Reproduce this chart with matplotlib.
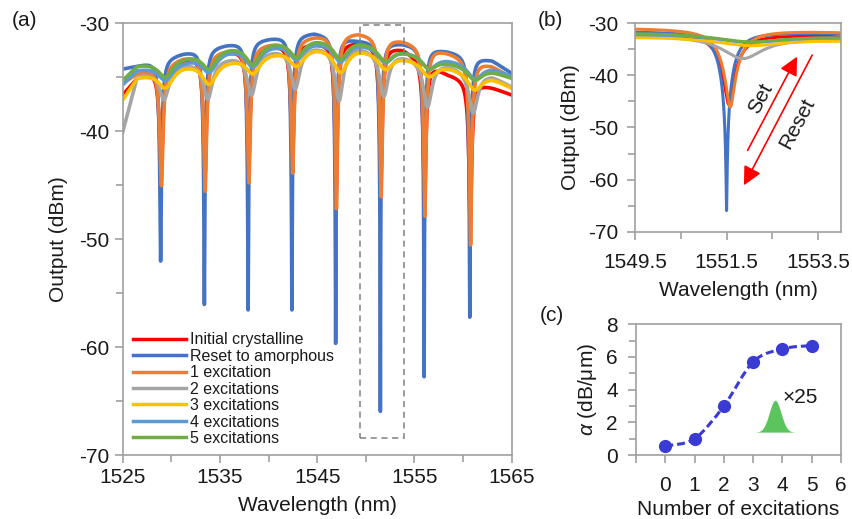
import numpy as np
import matplotlib.pyplot as plt
from matplotlib.patches import Rectangle, PathPatch
from matplotlib.path import Path
from matplotlib.ticker import MultipleLocator

plt.rcParams['font.family'] = ['Liberation Sans', 'DejaVu Sans']
plt.rcParams['mathtext.fontset'] = 'custom'
plt.rcParams['mathtext.it'] = 'Liberation Sans:italic'
plt.rcParams['mathtext.rm'] = 'Liberation Sans'
plt.rcParams['axes.unicode_minus'] = False

# ---- data ----
series_names = ['Initial crystalline', 'Reset to amorphous', '1 excitation',
                '2 excitations', '3 excitations', '4 excitations', '5 excitations']
series_colors = ['#FF0000', '#4472C4', '#ED7D31', '#A5A5A5', '#FFC000', '#5B9BD5', '#70AD47']

# ring resonances (nm)
dip_wl = [1528.9, 1533.4, 1537.9, 1542.4, 1546.9, 1551.5, 1556.0, 1560.7]

# background level between resonances (dBm), per series
env_wl = [1525, 1526.5, 1531.2, 1535.7, 1540.2, 1544.7, 1549.2, 1553.8, 1558.4, 1563.0, 1565]
env_red = [-36.6, -35.0, -33.3, -32.6, -32.0, -31.8, -31.7, -32.3, -34.6, -35.9, -36.6]
env_blue = [-34.2, -33.9, -32.7, -31.9, -31.3, -30.8, -31.5, -31.8, -32.5, -33.4, -34.6]
env_orange = [-35.5, -34.6, -33.1, -32.4, -31.8, -31.1, -30.8, -31.5, -32.6, -33.9, -35.0]
env_gray = [-40.0, -34.8, -33.6, -33.0, -32.3, -31.9, -31.9, -32.7, -33.6, -34.7, -35.8]
env_yellow = [-37.0, -34.9, -33.7, -33.2, -32.5, -32.0, -32.1, -32.9, -33.8, -34.9, -35.9]
env_lblue = [-35.6, -34.2, -33.3, -32.3, -31.8, -31.5, -31.6, -32.3, -33.1, -34.0, -34.8]
env_green = [-35.2, -33.8, -32.9, -32.0, -31.5, -31.2, -31.4, -32.3, -33.4, -34.3, -35.0]

# resonance minima (dBm), per series
min_red = [-44.5, -45.0, -44.3, -43.5, -46.5, -45.5, -47.0, -49.5]
min_blue = [-52.0, -56.0, -56.5, -56.5, -59.6, -65.9, -62.7, -57.2]
min_orange = [-45.0, -45.5, -44.7, -43.8, -47.1, -46.0, -47.8, -50.5]
min_gray = [-37.0, -36.9, -36.5, -35.9, -37.0, -36.6, -37.6, -38.2]
min_yellow = [-35.9, -35.5, -34.5, -33.8, -34.4, -34.1, -34.8, -36.1]
min_lblue = [-35.2, -34.4, -33.9, -33.2, -33.4, -33.5, -34.1, -35.1]
min_green = [-34.9, -34.1, -33.7, -33.0, -33.2, -33.4, -34.1, -35.2]

# resonance shift (nm) and half width (nm), per series
dip_shift = [0.05, 0.0, 0.08, 0.35, 0.5, 0.5, 0.5]
dip_hw = [0.36, 0.32, 0.38, 0.7, 1.0, 1.0, 1.0]

# panel (c)
n_exc = [0, 1, 2, 3, 4, 5]
alpha_loss = [0.55, 1.0, 3.0, 5.7, 6.5, 6.7]

envs = [env_red, env_blue, env_orange, env_gray, env_yellow, env_lblue, env_green]
mins = [min_red, min_blue, min_orange, min_gray, min_yellow, min_lblue, min_green]

wl = np.arange(1525, 1565.0001, 0.004)
wl = np.union1d(wl, np.array(dip_wl))


def spectrum(env, mn, shift, hw):
    base = np.interp(wl, env_wl, env)
    trans = np.ones_like(wl)
    for c, m in zip(dip_wl, mn):
        c = c + shift
        depth = 1 - 10 ** ((m - np.interp(c, env_wl, env)) / 10)
        trans *= 1 - depth / (1 + ((wl - c) / hw) ** 2)
    return base + 10 * np.log10(trans)


spectra = [spectrum(e, m, s, h) for e, m, s, h in zip(envs, mins, dip_shift, dip_hw)]

fig = plt.figure(figsize=(8.52, 5.19), dpi=100)
ax_a = fig.add_axes([0.144, 0.1233, 0.4565, 0.8318])
ax_b = fig.add_axes([0.7453, 0.5536, 0.2418, 0.4015])
ax_c = fig.add_axes([0.7465, 0.1233, 0.2406, 0.2518])

spine_c = '#A0A0A0'
txt_c = '#1a1a1a'


def style(ax):
    for s in ax.spines.values():
        s.set_color(spine_c)
        s.set_linewidth(1.2)
    ax.tick_params(which='both', direction='out', color=spine_c, labelcolor=txt_c,
                   labelsize=15, width=1.2)
    ax.tick_params(which='major', length=6)
    ax.tick_params(which='minor', length=5)


# ---- (a) ----
for y, c, name in zip(spectra, series_colors, series_names):
    ax_a.plot(wl, y, color=c, lw=2.6, label=name)
ax_a.set_xlim(1525, 1565)
ax_a.set_ylim(-70, -30)
ax_a.set_xticks(np.arange(1525, 1566, 10))
ax_a.set_xticks(np.arange(1530, 1565, 10), minor=True)
ax_a.yaxis.set_major_locator(MultipleLocator(10))
ax_a.yaxis.set_minor_locator(MultipleLocator(5))
style(ax_a)
ax_a.set_xlabel('Wavelength (nm)', fontsize=15, color=txt_c, labelpad=6)
ax_a.set_ylabel('Output (dBm)', fontsize=15, color=txt_c, labelpad=8)
ax_a.add_patch(Rectangle((1549.4, -68.4), 4.5, 38.2, fill=False, ls=(0, (4, 3)),
                         lw=1.1, ec='#808080', zorder=5))
leg = ax_a.legend(loc='lower left', bbox_to_anchor=(-0.015, -0.016), frameon=False,
                  fontsize=11.5, handlelength=3.3, handletextpad=0.3,
                  labelspacing=0.09, borderpad=0.5)
for h in leg.get_lines():
    h.set_linewidth(2.5)
for t in leg.get_texts():
    t.set_color(txt_c)

# ---- (b) ----
for y, c in zip(spectra, series_colors):
    ax_b.plot(wl, y, color=c, lw=2.2)
ax_b.set_xlim(1549.5, 1554)
ax_b.set_ylim(-70, -30)
ax_b.set_xticks([1549.5, 1551.5, 1553.5])
ax_b.set_xticks([1550.5, 1552.5], minor=True)
ax_b.yaxis.set_major_locator(MultipleLocator(10))
ax_b.yaxis.set_minor_locator(MultipleLocator(5))
style(ax_b)
ax_b.tick_params(axis='x', which='major', pad=9)
ax_b.tick_params(axis='y', which='major', pad=6)
ax_b.set_xlabel('Wavelength (nm)', fontsize=15, color=txt_c, labelpad=7)
ax_b.set_ylabel('Output (dBm)', fontsize=15, color=txt_c, labelpad=6)
arrow = dict(arrowstyle='-|>', color='#FF0000', lw=1.2, mutation_scale=28,
             shrinkA=0, shrinkB=0)
ax_b.annotate('', xy=(1553.04, -36.4), xytext=(1551.96, -54.4), arrowprops=arrow)
ax_b.annotate('', xy=(1551.88, -61.1), xytext=(1553.37, -36.1), arrowprops=arrow)
ax_b.text(1552.25, -44.4, 'Set', rotation=62, fontsize=15, color=txt_c,
          ha='center', va='center')
ax_b.text(1553.05, -49.2, 'Reset', rotation=62, fontsize=15, color=txt_c,
          ha='center', va='center')

# ---- (c) ----
pts = np.column_stack([n_exc, alpha_loss]).astype(float)
verts = [pts[0]]
codes = [Path.MOVETO]
for i in range(len(pts) - 1):
    p0 = pts[max(i - 1, 0)]
    p1 = pts[i]
    p2 = pts[i + 1]
    p3 = pts[min(i + 2, len(pts) - 1)]
    verts += [p1 + (p2 - p0) / 6, p2 - (p3 - p1) / 6, p2]
    codes += [Path.CURVE4] * 3
ax_c.add_patch(PathPatch(Path(verts, codes), fill=False, ec='#3A3AD4', lw=2.2,
                         ls=(0, (2.6, 1.3))))
ax_c.plot(n_exc, alpha_loss, 'o', color='#3A3AD4', ms=8.5)
xg = np.linspace(3.1, 4.4, 200)
ax_c.fill_between(xg, 1.4, 1.4 + 1.95 * np.exp(-0.5 * ((xg - 3.75) / 0.2) ** 2),
                  color='#5CC45C', lw=0)
ax_c.text(4.0, 3.55, '×25', fontsize=15, color=txt_c, ha='left', va='center')
ax_c.set_xlim(-1, 6)
ax_c.set_ylim(0, 8)
ax_c.set_xticks(range(-1, 7))
ax_c.set_xticklabels([''] + [str(i) for i in range(7)])
ax_c.yaxis.set_major_locator(MultipleLocator(2))
ax_c.yaxis.set_minor_locator(MultipleLocator(1))
style(ax_c)
ax_c.tick_params(axis='x', which='major', pad=9)
ax_c.tick_params(axis='y', which='major', pad=7)
ax_c.set_xlabel('Number of excitations', fontsize=15, color=txt_c, labelpad=4)
ax_c.set_ylabel(r'$\it{\alpha}$ (dB/μm)', fontsize=15, color=txt_c, labelpad=5)

fig.text(0.014, 0.961, '(a)', fontsize=15, color=txt_c, va='center')
fig.text(0.631, 0.961, '(b)', fontsize=15, color=txt_c, va='center')
fig.text(0.634, 0.393, '(c)', fontsize=15, color=txt_c, va='center')

fig.savefig('out.png', dpi=100)
